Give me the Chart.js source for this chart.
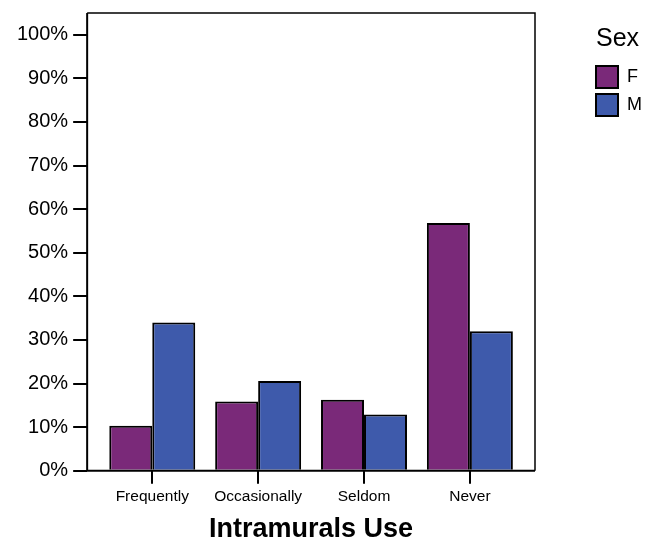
<!DOCTYPE html>
<html>
<head>
<meta charset="utf-8">
<script src="https://cdn.jsdelivr.net/npm/chart.js@4"></script>
<style>
  html, body { margin: 0; padding: 0; background: #fff; }
  #wrap { width: 657px; height: 544px; }
</style>
</head>
<body>
<div id="wrap"><canvas id="chart" width="657" height="544"></canvas></div>
<script>
const categories = ['Frequently', 'Occasionally', 'Seldom', 'Never'];
const femaleValues = [10.3, 15.9, 16.3, 56.8];
const maleValues = [34.0, 20.6, 12.9, 32.0];
const yTicks = [0, 10, 20, 30, 40, 50, 60, 70, 80, 90, 100];

function toPoints(vals) {
  return vals.map((v, i) => ({ x: i, y: v }));
}

// frame around the plot
const frame = {
  id: 'frame',
  afterDatasetsDraw(chart) {
    const a = chart.chartArea;
    const c = chart.ctx;
    c.save();
    c.strokeStyle = '#000';
    c.lineWidth = 1.5;
    c.beginPath();
    c.moveTo(a.left, a.top);
    c.lineTo(a.right, a.top);
    c.lineTo(a.right, a.bottom);
    c.stroke();
    c.lineWidth = 2;
    c.beginPath();
    c.moveTo(a.left, a.top);
    c.lineTo(a.left, a.bottom);
    c.lineTo(a.right, a.bottom);
    c.stroke();
    c.restore();
  }
};

// legend reserves 122px on the right, then is moved into place
const legendSpace = {
  id: 'legendSpace',
  afterInit(chart) {
    const lg = chart.legend;
    const fit = lg.fit.bind(lg);
    lg.fit = function () { fit(); this.width = 122; };
  },
  afterLayout(chart) {
    const lg = chart.legend;
    lg.left = 590;
    lg.width = 55;
    lg.right = lg.left + lg.width;
  }
};

const ctx = document.getElementById('chart').getContext('2d');
new Chart(ctx, {
  type: 'bar',
  data: {
    datasets: [{
      label: 'F',
      data: toPoints(femaleValues),
      backgroundColor: '#7A2979',
      borderColor: '#000',
      borderWidth: 2,
      borderSkipped: 'bottom'
    }, {
      label: 'M',
      data: toPoints(maleValues),
      backgroundColor: '#3E5AAB',
      borderColor: '#000',
      borderWidth: 2,
      borderSkipped: 'bottom'
    }]
  },
  options: {
    responsive: false,
    animation: false,
    layout: { padding: { top: 8, left: 12, right: 0, bottom: 0 } },
    datasets: { bar: { categoryPercentage: 0.812, barPercentage: 1.0 } },
    plugins: {
      tooltip: { enabled: false },
      legend: {
        position: 'right',
        align: 'start',
        title: {
          display: true,
          text: 'Sex',
          position: 'center',
          color: '#000',
          font: { family: 'Liberation Sans', size: 25 },
          padding: { top: 19, bottom: 3 }
        },
        labels: {
          color: '#000',
          boxWidth: 22,
          boxHeight: 22,
          padding: 6,
          font: { family: 'Liberation Sans', size: 18 },
          generateLabels(chart) {
            return chart.data.datasets.map((d, i) => ({
              text: d.label,
              fillStyle: d.backgroundColor,
              strokeStyle: '#000',
              lineWidth: 2,
              datasetIndex: i
            }));
          }
        }
      }
    },
    scales: {
      x: {
        type: 'linear',
        offset: false,
        min: -0.615,
        max: 3.615,
        afterBuildTicks(scale) {
          scale.ticks = categories.map((c, i) => ({ value: i }));
        },
        ticks: {
          color: '#000',
          font: { family: 'Liberation Sans', size: 15.5 },
          padding: 4,
          maxRotation: 0,
          autoSkip: false,
          callback: (v) => categories[v]
        },
        grid: { offset: false, drawOnChartArea: false, color: '#000', lineWidth: 2, tickLength: 13 },
        border: { display: false },
        title: {
          display: true,
          text: 'Intramurals Use',
          color: '#000',
          font: { family: 'Liberation Sans', size: 27, weight: 'bold', lineHeight: 1.1 },
          padding: { top: 4, bottom: 0 }
        }
      },
      y: {
        min: 0,
        max: 105,
        afterBuildTicks(scale) {
          scale.ticks = yTicks.map(v => ({ value: v }));
        },
        ticks: {
          color: '#000',
          font: { family: 'Liberation Sans', size: 20, lineHeight: 0.8 },
          padding: 5,
          callback: (v) => v + '%'
        },
        grid: { drawOnChartArea: false, color: '#000', lineWidth: 2, tickLength: 14 },
        border: { display: false }
      }
    }
  },
  plugins: [frame, legendSpace]
});
</script>
</body>
</html>
